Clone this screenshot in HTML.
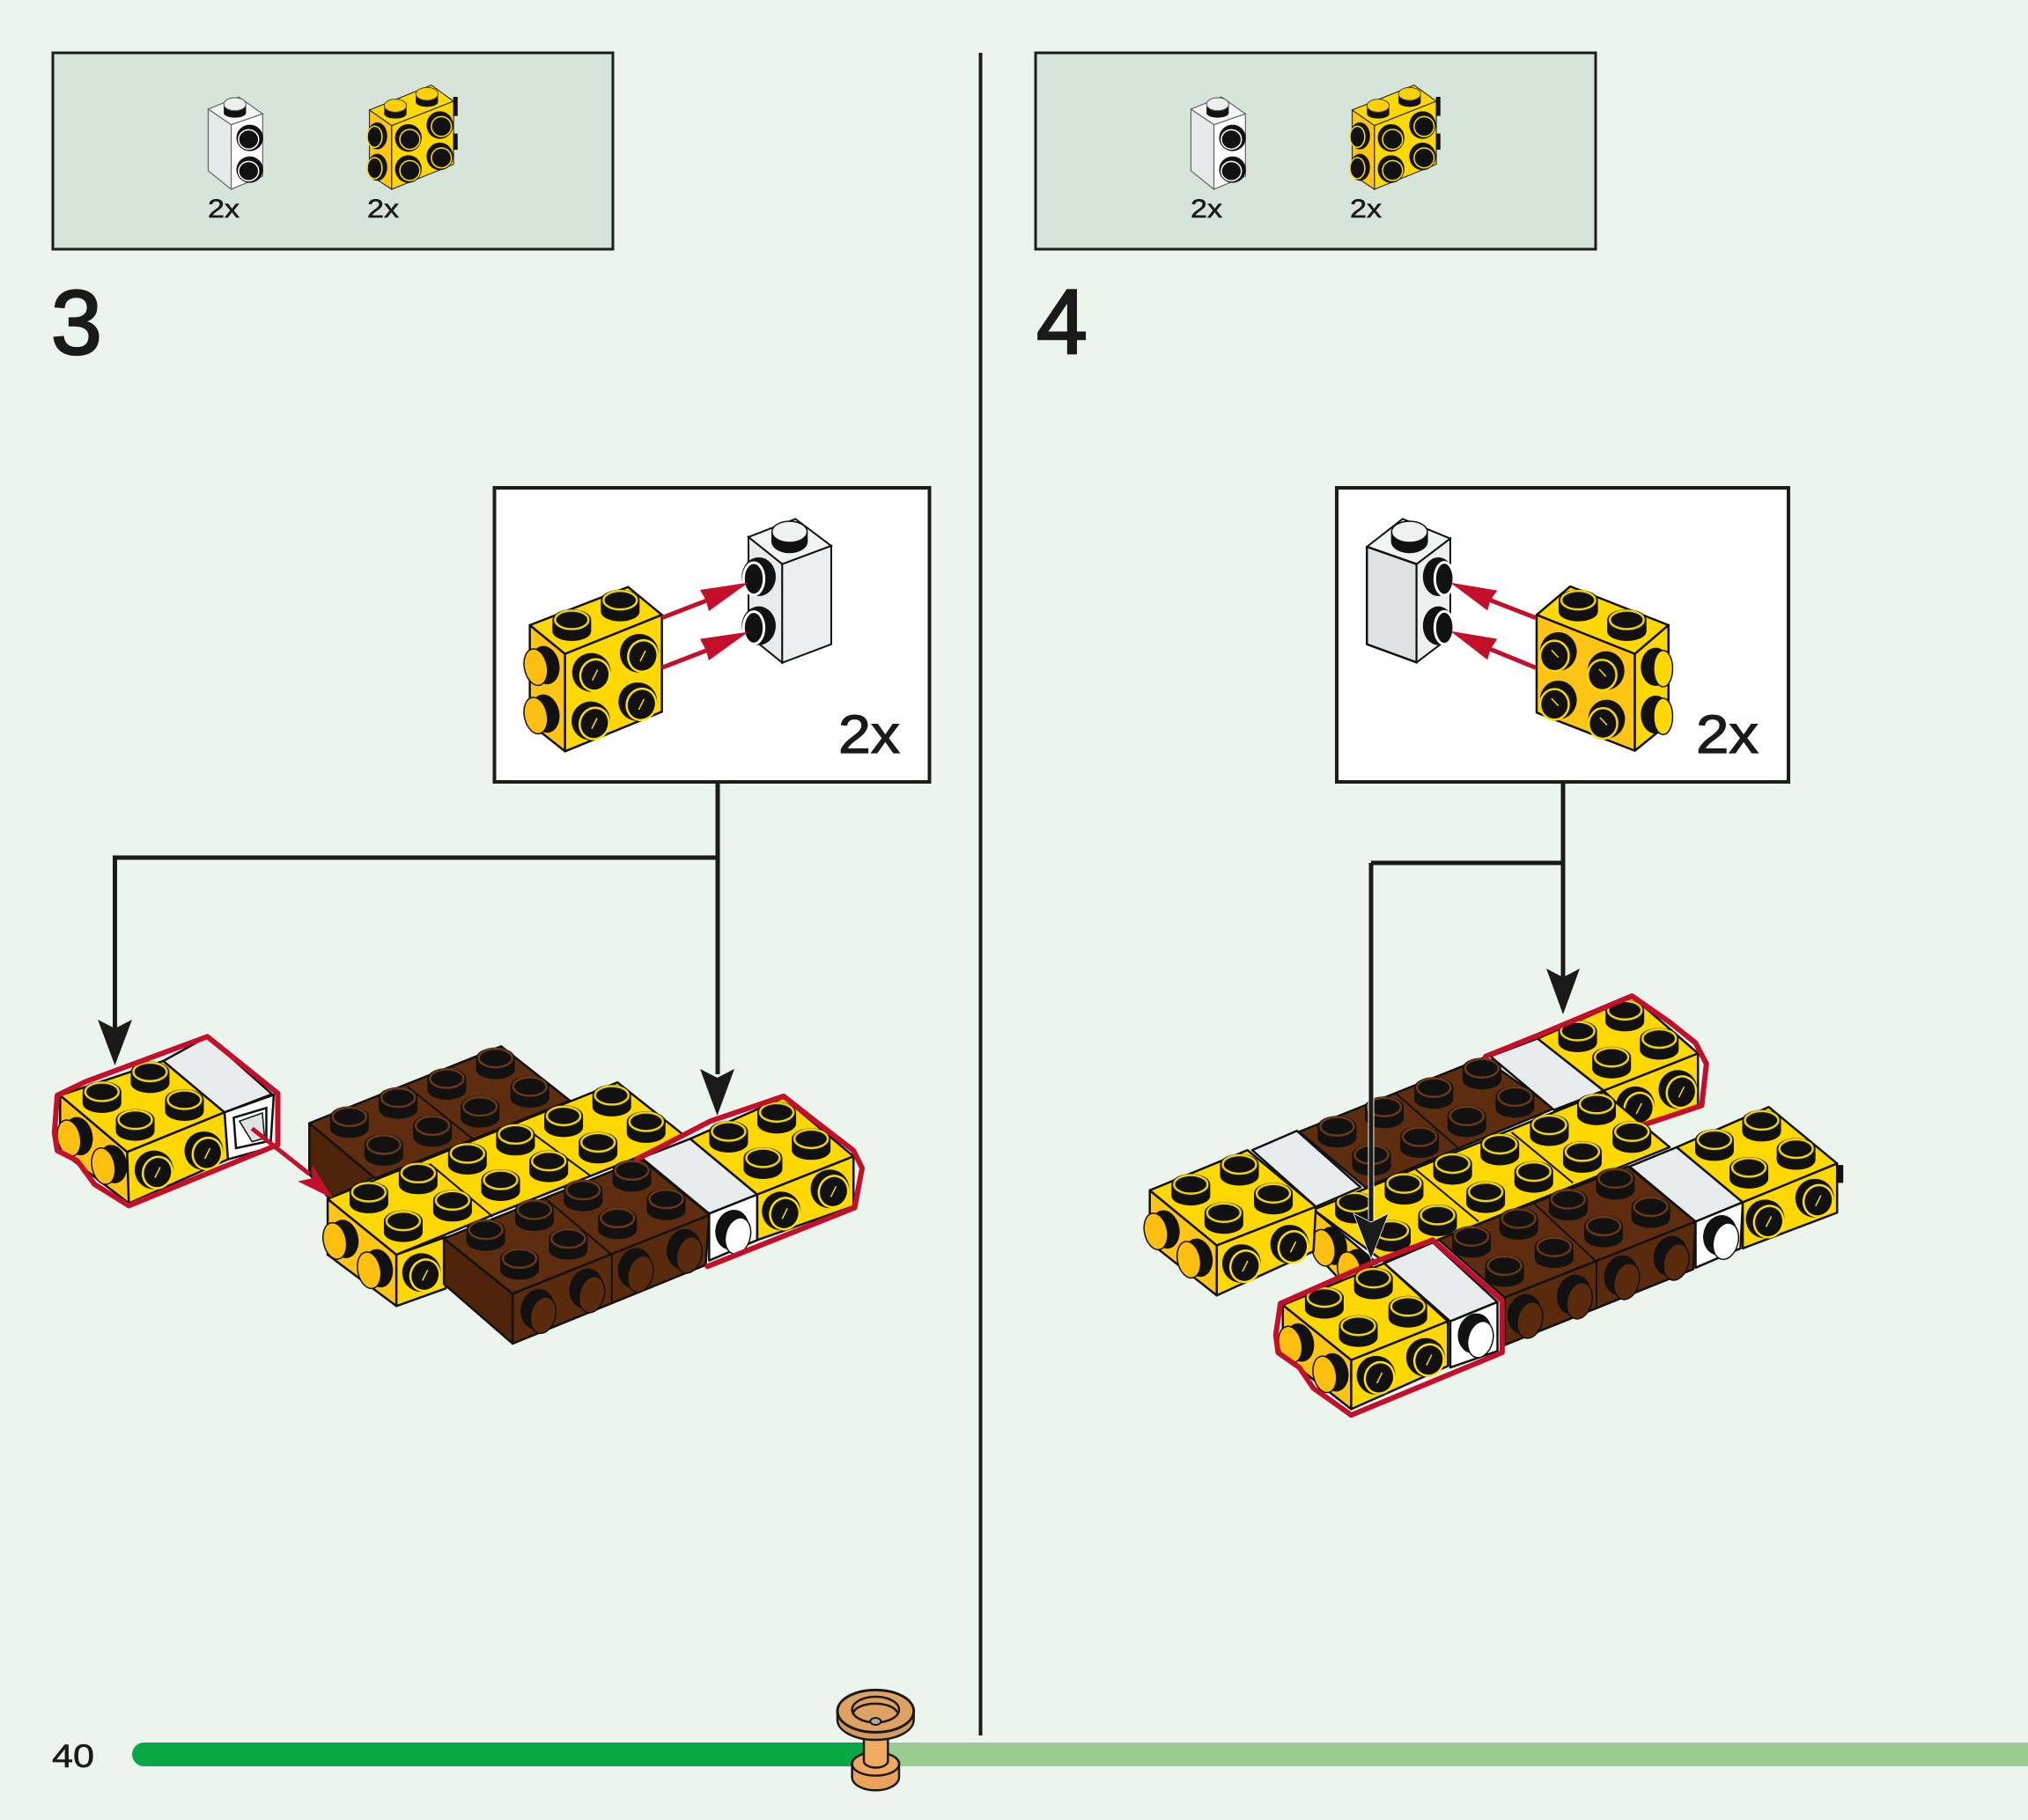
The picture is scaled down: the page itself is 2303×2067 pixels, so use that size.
<!DOCTYPE html>
<html><head><meta charset="utf-8"><style>
html,body{margin:0;padding:0;background:#ebf5ee}
svg{display:block}
svg *{vector-effect:non-scaling-stroke}
.y,.o,.b,.d,.f,.w,.g,.m{stroke:#111;stroke-width:2.5;stroke-linejoin:round}
.y{fill:#ffd800}.o{fill:#ffc414}.b{fill:#5e2d0f}.d{fill:#4e230a}.f{fill:#5a2a0c}.w{fill:#fff}.g{fill:#e9ecec}.m{fill:#dfe3e3}
.r{fill:none;stroke:#c40f2a;stroke-width:6;stroke-linejoin:round;stroke-linecap:round}
.t{font-family:"Liberation Sans",sans-serif;fill:#1a1a1a;stroke:#1a1a1a}
</style></head><body>
<svg xmlns="http://www.w3.org/2000/svg" width="2303" height="2067" viewBox="0 0 2303 2067">
<defs>
<g id="ty"><path d="M-22,0V13A22,11 0 0 0 22,13V0A22,12 0 0 0-22,0Z" fill="#111"/><ellipse rx="19" ry="10.500" fill="#111" stroke="#f2d400" stroke-width="2.500"/></g>
<g id="tb"><path d="M-22,0V13A22,11 0 0 0 22,13V0A22,12 0 0 0-22,0Z" fill="#111"/><ellipse rx="19" ry="10.500" fill="#111" stroke="#6b3816" stroke-width="2.500"/></g>
<g id="fy"><ellipse cx="-4" cy="-3" rx="22" ry="22" fill="#111"/><ellipse rx="16.500" ry="18" transform="rotate(20)" fill="#111" stroke="#ffe000" stroke-width="2.500"/><line x1="-3" y1="6" x2="3" y2="-6" stroke="#ffe000" stroke-width="1.500"/></g>
<g id="fb"><ellipse cx="-5" cy="-2" rx="19" ry="23" transform="rotate(15)" fill="#111"/><ellipse cx="3" cy="3" rx="14" ry="21" transform="rotate(15)" fill="#5a2a0c" stroke="#111" stroke-width="1.500"/></g>
<g id="fw"><ellipse cx="-5" cy="-2" rx="19" ry="23" transform="rotate(15)" fill="#111"/><ellipse cx="3" cy="3" rx="14" ry="21" transform="rotate(15)" fill="#fff" stroke="#111" stroke-width="1.500"/></g>
<g id="ly"><ellipse cx="6" cy="0" rx="16" ry="22" transform="rotate(-12)" fill="#111"/><ellipse cx="-5" cy="0" rx="13" ry="21" transform="rotate(-12)" fill="#fdc010" stroke="#111" stroke-width="1.500"/></g>

<g id="a-ty" transform="scale(1.537,3)"><use href="#ty"/></g>
<g id="a-tb" transform="scale(1.537,3)"><use href="#tb"/></g>
<g id="a-fy" transform="scale(1.537,3)"><use href="#fy"/></g>
<g id="a-fb" transform="scale(1.537,3)"><use href="#fb"/></g>
<g id="a-fw" transform="scale(1.537,3)"><use href="#fw"/></g>
<g id="a-ly" transform="scale(1.537,3)"><use href="#ly"/></g>

<g id="b-ty" transform="scale(1.867,2.958)"><use href="#ty"/></g>
<g id="b-tb" transform="scale(1.867,2.958)"><use href="#tb"/></g>
<g id="b-fy" transform="scale(1.867,2.958)"><use href="#fy"/></g>
<g id="b-fb" transform="scale(1.867,2.958)"><use href="#fb"/></g>
<g id="b-fw" transform="scale(1.867,2.958)"><use href="#fw"/></g>
<g id="b-ly" transform="scale(1.867,2.958)"><use href="#ly"/></g>

<g id="c-ty" transform="scale(3)"><use href="#ty"/></g>
<g id="c-fy" transform="scale(3)"><use href="#fy"/></g>
<g id="c-ly" transform="scale(3)"><use href="#ly"/></g>

<g id="parts">
<rect x="60" y="60" width="636" height="223" fill="#d7e4da" stroke="#1a1f1a" stroke-width="3"/>
<g transform="translate(50,50) scale(.4209,.3333)">
 <polygon points="443,222 525,180 590,238 505,275" fill="#f4f5f5" stroke="#666" stroke-width="1.200"/>
 <polygon points="443,222 505,275 505,495 443,432" fill="#e6eaea" stroke="#666" stroke-width="1.200"/>
 <polygon points="505,275 590,238 590,450 505,495" fill="#fff" stroke="#666" stroke-width="1.200"/>
 <path d="M485,205V235A30,16 0 0 0 545,235V205Z" fill="#111"/><ellipse cx="515" cy="205" rx="30" ry="22" fill="#eef0f0" stroke="#555" stroke-width="1"/>
 <ellipse cx="555" cy="320" rx="36" ry="45" fill="#111"/><ellipse cx="552" cy="325" rx="27" ry="33" fill="#111" stroke="#fff" stroke-width="1.500"/>
 <ellipse cx="555" cy="428" rx="36" ry="45" fill="#111"/><ellipse cx="552" cy="433" rx="27" ry="33" fill="#111" stroke="#fff" stroke-width="1.500"/>
 <polygon points="878,225 1045,140 1105,195 938,278" fill="#ffd800" stroke="#333" stroke-width="1.200"/>
 <polygon points="878,225 938,278 938,495 878,445" fill="#ffc414" stroke="#333" stroke-width="1.200"/>
 <polygon points="938,278 1105,195 1105,410 938,495" fill="#ffd800" stroke="#333" stroke-width="1.200"/>
 <rect x="1104" y="180" width="12" height="65" fill="#111"/><rect x="1104" y="305" width="12" height="55" fill="#111"/>
 <path d="M918,210V238A30,16 0 0 0 978,238V210Z" fill="#111"/><ellipse cx="948" cy="210" rx="30" ry="22" fill="#ffd000" stroke="#444" stroke-width="1"/>
 <path d="M1003,170V198A30,16 0 0 0 1063,198V170Z" fill="#111"/><ellipse cx="1033" cy="170" rx="30" ry="22" fill="#ffd000" stroke="#444" stroke-width="1"/>
 <g fill="#111" stroke="#ffe000" stroke-width="1.500">
 <ellipse cx="983" cy="320" rx="36" ry="47" stroke="none"/><ellipse cx="987" cy="325" rx="27" ry="34"/>
 <ellipse cx="1068" cy="276" rx="36" ry="47" stroke="none"/><ellipse cx="1072" cy="281" rx="27" ry="34"/>
 <ellipse cx="983" cy="426" rx="36" ry="47" stroke="none"/><ellipse cx="987" cy="431" rx="27" ry="34"/>
 <ellipse cx="1068" cy="383" rx="36" ry="47" stroke="none"/><ellipse cx="1072" cy="388" rx="27" ry="34"/>
 <ellipse cx="899" cy="313" rx="27" ry="46" stroke="none"/><ellipse cx="892" cy="316" rx="20" ry="36"/>
 <ellipse cx="899" cy="420" rx="27" ry="46" stroke="none"/><ellipse cx="892" cy="423" rx="20" ry="36"/>
 </g>
</g>
<text class="t" x="236" y="247" font-size="30" stroke-width=".6" textLength="36" lengthAdjust="spacingAndGlyphs">2x</text>
<text class="t" x="417" y="247" font-size="30" stroke-width=".6" textLength="36" lengthAdjust="spacingAndGlyphs">2x</text>
</g>
</defs>

<rect width="2303" height="2067" fill="#ebf5ee"/>
<use href="#parts"/>
<use href="#parts" x="1116"/>
<rect x="1111.500" y="60" width="4" height="1911" fill="#1a1a1a"/>

<text class="t" x="58" y="402" font-size="104" stroke-width="2.500">3</text>
<text class="t" x="1177" y="401" font-size="104" stroke-width="2.500">4</text>

<!-- connectors panel 3 -->
<path d="M815,888V1220M815,974H130.500V1170" fill="none" stroke="#1a1a1a" stroke-width="5"/>
<polygon points="111,1158 130.500,1168 150,1158 130.500,1210" fill="#1a1a1a"/>
<polygon points="795,1214 814.500,1224 834,1214 814.500,1267" fill="#1a1a1a"/>

<!-- inset panel 3 -->
<rect x="561.500" y="554" width="494" height="334" fill="#fff" stroke="#1a1f1a" stroke-width="4"/>
<g transform="translate(560,550) scale(.3333)">
 <polygon class="o" points="125,480 245,578 245,910 125,815"/>
 <polygon class="y" points="125,480 460,350 575,445 245,578"/>
 <polygon class="y" points="245,578 575,445 575,775 245,910"/>
 <use href="#c-ty" x="433" y="395"/><use href="#c-ty" x="268" y="462"/>
 <use href="#c-fy" x="510" y="585"/><use href="#c-fy" x="347" y="650"/><use href="#c-fy" x="505" y="750"/><use href="#c-fy" x="345" y="815"/>
 <use href="#c-ly" x="160" y="620"/><use href="#c-ly" x="160" y="785"/>
 <polygon points="870,180 1030,118 1152,210 985,272" fill="#f2f4f4" stroke="#111" stroke-width="2"/>
 <polygon points="870,180 985,272 985,608 870,515" fill="#e8ebeb" stroke="#111" stroke-width="2"/>
 <polygon points="985,272 1152,210 1152,545 985,608" fill="#ecefef" stroke="#111" stroke-width="2"/>
 <path d="M948,165V195A62,40 0 0 0 1072,195V165Z" fill="#111"/><ellipse cx="1010" cy="162" rx="60" ry="36" fill="#f0f2f2" stroke="#111" stroke-width="1.500"/>
 <ellipse cx="905" cy="315" rx="58" ry="66" fill="#111"/><ellipse cx="888" cy="322" rx="35" ry="55" fill="#111" stroke="#fff" stroke-width="3"/>
 <ellipse cx="905" cy="482" rx="58" ry="66" fill="#111"/><ellipse cx="888" cy="489" rx="35" ry="55" fill="#111" stroke="#fff" stroke-width="3"/>
 <path d="M575,455L730,395M575,625L730,565" stroke="#c40f2a" stroke-width="5" fill="none"/>
 <polygon points="870,335 705,360 725,395 735,432" fill="#c40f2a"/>
 <polygon points="870,503 705,527 725,565 735,600" fill="#c40f2a"/>
</g>
<text class="t" x="952" y="855" font-size="61" stroke-width="1.200" textLength="70" lengthAdjust="spacingAndGlyphs">2x</text>

<!-- panel 3 assembly -->
<g transform="translate(0,1100) scale(.6505,.3333)">
 <polygon class="o" points="105,432 222,625 225,800 105,620"/>
 <polygon class="y" points="105,432 285,315 392,490 222,625"/>
 <polygon class="y" points="222,625 392,490 398,650 225,800"/>
 <polygon class="g" points="285,315 362,232 475,428 392,490"/>
 <polygon class="w" points="392,490 478,430 472,610 398,650"/>
 <polygon points="408,508 465,475 465,590 412,612" fill="#fff" stroke="#111" stroke-width="2.500"/>
 <polygon points="418,520 458,492 462,578 440,590" fill="#dfe3e3" stroke="#111" stroke-width="1.500"/>
 <use href="#a-ty" x="262" y="352"/><use href="#a-ty" x="178" y="420"/><use href="#a-ty" x="322" y="447"/><use href="#a-ty" x="236" y="515"/>
 <use href="#a-fy" x="362" y="630"/><use href="#a-fy" x="275" y="695"/>
 <use href="#a-ly" x="128" y="575"/><use href="#a-ly" x="188" y="670"/>
 <polyline class="r" points="100,432 150,385 240,320 362,232 485,425 485,600 225,808 165,735 135,655 100,620 95,560 100,432"/>

 <polygon class="d" points="540,527 655,710 575,785 540,700"/>
 <polygon class="b" points="540,527 875,265 995,450 655,715"/>
 <line x1="710" y1="400" x2="825" y2="580" stroke="#111" stroke-width="2"/>
 <use href="#a-tb" x="865" y="305"/><use href="#a-tb" x="780" y="375"/><use href="#a-tb" x="925" y="402"/><use href="#a-tb" x="695" y="440"/><use href="#a-tb" x="838" y="470"/><use href="#a-tb" x="610" y="505"/><use href="#a-tb" x="755" y="535"/><use href="#a-tb" x="670" y="600"/>

 <polygon class="o" points="572,785 692,975 692,1150 572,975"/>
 <polygon class="y" points="692,975 778,915 778,1090 692,1150"/>
 <polygon class="y" points="572,785 1078,388 1192,565 1110,645 860,840 692,975"/>
 <path d="M750,665L860,845M915,540L1030,705" stroke="#111" stroke-width="2" fill="none"/>
 <use href="#a-ty" x="1068" y="432"/><use href="#a-ty" x="984" y="502"/><use href="#a-ty" x="1128" y="522"/><use href="#a-ty" x="900" y="565"/><use href="#a-ty" x="1044" y="592"/><use href="#a-ty" x="816" y="630"/><use href="#a-ty" x="958" y="656"/><use href="#a-ty" x="730" y="697"/><use href="#a-ty" x="874" y="720"/><use href="#a-ty" x="644" y="762"/><use href="#a-ty" x="790" y="790"/><use href="#a-ty" x="704" y="860"/>
 <use href="#a-fy" x="742" y="1045"/>
 <use href="#a-ly" x="592" y="925"/><use href="#a-ly" x="652" y="1025"/>

 <polygon class="d" points="775,920 895,1108 895,1278 775,1075"/>
 <polygon class="b" points="775,920 1120,650 1240,840 895,1108"/>
 <polygon class="f" points="895,1108 1238,840 1232,1010 895,1278"/>
 <path d="M950,780L1068,975V1135" stroke="#111" stroke-width="2" fill="none"/>
 <use href="#a-tb" x="1103" y="688"/><use href="#a-tb" x="1018" y="755"/><use href="#a-tb" x="1163" y="785"/><use href="#a-tb" x="933" y="822"/><use href="#a-tb" x="1078" y="850"/><use href="#a-tb" x="848" y="890"/><use href="#a-tb" x="992" y="920"/><use href="#a-tb" x="907" y="988"/>
 <use href="#a-fb" x="1200" y="965"/><use href="#a-fb" x="1115" y="1030"/><use href="#a-fb" x="1030" y="1100"/><use href="#a-fb" x="945" y="1170"/>

 <polygon class="g" points="1120,645 1205,580 1322,770 1238,835"/>
 <polygon class="w" points="1238,835 1322,770 1322,925 1238,995"/>
 <use href="#a-fw" x="1285" y="900"/>
 <polygon class="y" points="1205,580 1368,440 1490,640 1322,770"/>
 <polygon class="y" points="1322,770 1490,640 1490,810 1322,925"/>
 <use href="#a-ty" x="1356" y="490"/><use href="#a-ty" x="1272" y="555"/><use href="#a-ty" x="1416" y="580"/><use href="#a-ty" x="1332" y="645"/>
 <use href="#a-fy" x="1455" y="760"/><use href="#a-fy" x="1370" y="835"/>
 <polyline class="r" points="1112,650 1240,520 1368,435 1430,530 1490,620 1505,680 1492,815 1235,1015"/>

 <path d="M440,545L540,700" stroke="#c40f2a" stroke-width="5" fill="none"/>
 <polygon points="582,785 520,725 545,715 545,670" fill="#c40f2a"/>
</g>

<!-- connectors panel 4 -->
<path d="M1775,888V1110M1775,980H1557" fill="none" stroke="#1a1a1a" stroke-width="5"/>
<polygon points="1756,1100 1775,1110 1794,1100 1775,1152" fill="#1a1a1a"/>

<!-- inset panel 4 -->
<rect x="1518" y="554" width="513" height="334" fill="#fff" stroke="#1a1f1a" stroke-width="4"/>
<g transform="translate(1510,550) scale(.3381,.3333)">
 <polygon points="125,213 245,118 405,185 292,272" fill="#f2f4f4" stroke="#111" stroke-width="2"/>
 <polygon class="m" points="125,213 292,272 292,607 125,545"/>
 <polygon points="292,272 405,185 405,520 292,607" fill="#eef0f0" stroke="#111" stroke-width="2"/>
 <path d="M206,165V195A62,40 0 0 0 330,195V165Z" fill="#111"/><ellipse cx="268" cy="162" rx="60" ry="36" fill="#f0f2f2" stroke="#111" stroke-width="1.500"/>
 <ellipse cx="365" cy="315" rx="52" ry="66" fill="#111"/><ellipse cx="385" cy="322" rx="32" ry="56" fill="#111" stroke="#fff" stroke-width="3"/>
 <ellipse cx="365" cy="482" rx="52" ry="66" fill="#111"/><ellipse cx="385" cy="489" rx="32" ry="56" fill="#111" stroke="#fff" stroke-width="3"/>
 <polygon class="y" points="695,445 808,348 1138,480 1025,578"/>
 <polygon class="o" points="695,445 1025,578 1025,908 695,778"/>
 <polygon class="y" points="1025,578 1138,480 1138,815 1025,908"/>
 <use href="#c-ty" x="835" y="395"/><use href="#c-ty" x="998" y="462"/>
 <g>
  <ellipse cx="768" cy="570" rx="62" ry="66" fill="#111"/><ellipse cx="755" cy="585" rx="48" ry="52" fill="#111" stroke="#ffd800" stroke-width="2.500"/>
  <ellipse cx="928" cy="635" rx="62" ry="66" fill="#111"/><ellipse cx="915" cy="650" rx="48" ry="52" fill="#111" stroke="#ffd800" stroke-width="2.500"/>
  <ellipse cx="768" cy="735" rx="62" ry="66" fill="#111"/><ellipse cx="755" cy="750" rx="48" ry="52" fill="#111" stroke="#ffd800" stroke-width="2.500"/>
  <ellipse cx="930" cy="800" rx="62" ry="66" fill="#111"/><ellipse cx="918" cy="815" rx="48" ry="52" fill="#111" stroke="#ffd800" stroke-width="2.500"/>
  <path d="M745,565L768,590M905,630L928,655M745,730L768,755M908,795L931,820" stroke="#ffd800" stroke-width="1.500" fill="none"/>
 </g>
 <ellipse cx="1095" cy="622" rx="50" ry="65" fill="#111"/><ellipse cx="1120" cy="628" rx="32" ry="62" fill="#ffd800" stroke="#111" stroke-width="1.500"/>
 <ellipse cx="1095" cy="785" rx="50" ry="65" fill="#111"/><ellipse cx="1120" cy="791" rx="32" ry="62" fill="#ffd800" stroke="#111" stroke-width="1.500"/>
 <path d="M692,455L540,395M692,625L540,562" stroke="#c40f2a" stroke-width="5" fill="none"/>
 <polygon points="405,335 563,362 540,395 530,430" fill="#c40f2a"/>
 <polygon points="405,500 563,527 540,562 530,598" fill="#c40f2a"/>
</g>
<text class="t" x="1926" y="855" font-size="61" stroke-width="1.200" textLength="71" lengthAdjust="spacingAndGlyphs">2x</text>

<!-- panel 4 assembly -->
<g transform="translate(1280,1100) scale(.5357,.3381)">
 <polygon class="b" points="365,548 755,300 905,470 505,735"/>
 <line x1="570" y1="420" x2="700" y2="600" stroke="#111" stroke-width="2"/>
 <use href="#b-tb" x="752" y="335"/><use href="#b-tb" x="650" y="400"/><use href="#b-tb" x="822" y="430"/><use href="#b-tb" x="545" y="465"/><use href="#b-tb" x="720" y="495"/><use href="#b-tb" x="445" y="530"/><use href="#b-tb" x="620" y="565"/><use href="#b-tb" x="518" y="625"/>

 <polygon class="g" points="770,295 870,235 1010,410 905,475"/>
 <polygon class="y" points="1010,410 1210,285 1210,460 1095,525 1050,470"/>
 <polygon class="y" points="870,235 1072,95 1210,285 1010,410"/>
 <use href="#b-ty" x="1055" y="140"/><use href="#b-ty" x="955" y="210"/><use href="#b-ty" x="1128" y="235"/><use href="#b-ty" x="1027" y="298"/>
 <use href="#b-fy" x="1175" y="415"/><use href="#b-fy" x="1085" y="470"/>
 <polyline class="r" points="760,295 870,225 1070,92 1150,180 1205,250 1228,320 1218,460 1095,525"/>

 <polygon class="o" points="395,810 530,990 445,1035 395,950"/>
 <polygon class="y" points="395,810 1010,415 1150,600 545,985"/>
 <path d="M612,675L745,850M815,550L945,720" stroke="#111" stroke-width="2" fill="none"/>
 <use href="#b-ty" x="995" y="455"/><use href="#b-ty" x="895" y="525"/><use href="#b-ty" x="1070" y="548"/><use href="#b-ty" x="790" y="590"/><use href="#b-ty" x="965" y="615"/><use href="#b-ty" x="690" y="655"/><use href="#b-ty" x="862" y="682"/><use href="#b-ty" x="587" y="722"/><use href="#b-ty" x="760" y="750"/><use href="#b-ty" x="482" y="785"/><use href="#b-ty" x="658" y="828"/><use href="#b-ty" x="560" y="880"/>
 <use href="#b-ly" x="425" y="935"/><use href="#b-ly" x="480" y="1010"/>

 <polygon class="o" points="48,745 190,930 190,1098 48,920"/>
 <polygon class="y" points="48,745 255,610 400,800 190,930"/>
 <polygon class="y" points="190,930 400,800 395,950 190,1098"/>
 <polygon class="g" points="265,610 360,545 495,735 400,800"/>
 <use href="#b-ty" x="238" y="658"/><use href="#b-ty" x="135" y="725"/><use href="#b-ty" x="310" y="755"/><use href="#b-ty" x="205" y="820"/>
 <use href="#b-fy" x="352" y="935"/><use href="#b-fy" x="250" y="1000"/>
 <use href="#b-ly" x="70" y="880"/><use href="#b-ly" x="140" y="975"/>

 <polygon class="b" points="660,910 1062,665 1205,850 800,1105"/>
 <polygon class="f" points="800,1105 1205,850 1200,1010 800,1265"/>
 <path d="M860,785L995,985V1135" stroke="#111" stroke-width="2" fill="none"/>
 <use href="#b-tb" x="1035" y="705"/><use href="#b-tb" x="935" y="775"/><use href="#b-tb" x="1110" y="800"/><use href="#b-tb" x="830" y="840"/><use href="#b-tb" x="1010" y="865"/><use href="#b-tb" x="730" y="900"/><use href="#b-tb" x="905" y="935"/><use href="#b-tb" x="800" y="998"/>
 <use href="#b-fb" x="1160" y="975"/><use href="#b-fb" x="1055" y="1040"/><use href="#b-fb" x="955" y="1105"/><use href="#b-fb" x="850" y="1170"/>

 <polygon class="g" points="1065,665 1165,600 1305,785 1205,850"/>
 <polygon class="w" points="1205,850 1305,785 1300,940 1205,1005"/>
 <use href="#b-fw" x="1265" y="905"/>
 <rect x="1500" y="660" width="18" height="60" fill="#111"/>
 <polygon class="y" points="1165,600 1360,465 1505,655 1305,785"/>
 <polygon class="y" points="1305,785 1505,655 1505,820 1305,940"/>
 <use href="#b-ty" x="1345" y="510"/><use href="#b-ty" x="1245" y="575"/><use href="#b-ty" x="1418" y="605"/><use href="#b-ty" x="1318" y="668"/>
 <use href="#b-fy" x="1465" y="780"/><use href="#b-fy" x="1360" y="850"/>

 <polygon class="o" points="330,1130 475,1315 475,1480 330,1300"/>
 <polygon class="y" points="330,1130 545,990 680,1185 475,1315"/>
 <polygon class="y" points="475,1315 680,1185 680,1335 475,1480"/>
 <polygon class="g" points="545,990 648,920 785,1120 685,1185"/>
 <polygon class="w" points="685,1185 785,1120 785,1285 685,1340"/>
 <use href="#b-fw" x="745" y="1235"/>
 <use href="#b-ty" x="522" y="1040"/><use href="#b-ty" x="418" y="1105"/><use href="#b-ty" x="595" y="1135"/><use href="#b-ty" x="490" y="1200"/>
 <use href="#b-fy" x="640" y="1315"/><use href="#b-fy" x="535" y="1375"/>
 <use href="#b-ly" x="355" y="1260"/><use href="#b-ly" x="428" y="1360"/>
 <polyline class="r" points="325,1125 525,985 648,912 795,1115 795,1290 475,1500 440,1460 395,1410 365,1340 320,1290 315,1230 325,1125"/>
</g>
<path d="M1557,980V1385" fill="none" stroke="#f4f8f5" stroke-width="7"/>
<path d="M1557,980V1390M1557,980H1600" fill="none" stroke="#1a1a1a" stroke-width="5"/>
<polygon points="1537,1378 1557,1388 1577,1378 1557,1430" fill="#1a1a1a" stroke="#f4f8f5" stroke-width=".8"/>

<!-- progress bar -->
<rect x="1000" y="1979" width="1303" height="27" fill="#9ccb92"/>
<rect x="150" y="1979" width="850" height="27" rx="13.500" fill="#07a845"/>
<text class="t" x="59" y="2007" font-size="37" stroke-width=".6" textLength="48" lengthAdjust="spacingAndGlyphs">40</text>
<g transform="translate(900,1890) scale(.3333)">
 <path d="M203,335V385A80,45 0 0 0 363,385V335Z" fill="#e9a35c" stroke="#1a1a1a" stroke-width="2.500"/>
 <ellipse cx="283" cy="340" rx="80" ry="40" fill="#efa95f" stroke="#1a1a1a" stroke-width="2.500"/>
 <path d="M243,250V330A40,22 0 0 0 325,330V250Z" fill="#f0ab63" stroke="#1a1a1a" stroke-width="2.500"/>
 <path d="M153,160V190A130,68 0 0 0 413,190V160Z" fill="#d59a5c" stroke="#1a1a1a" stroke-width="2.500"/>
 <ellipse cx="283" cy="160" rx="130" ry="72" fill="#dea263" stroke="#1a1a1a" stroke-width="3"/>
 <ellipse cx="283" cy="155" rx="80" ry="44" fill="#dea263" stroke="#1a1a1a" stroke-width="2.500"/>
 <path d="M207,165A76,36 0 0 1 357,165" fill="none" stroke="#1a1a1a" stroke-width="2.500"/>
 <ellipse cx="283" cy="195" rx="18" ry="12" fill="#aaa" stroke="#1a1a1a" stroke-width="2"/>
</g>
</svg>
</body></html>
